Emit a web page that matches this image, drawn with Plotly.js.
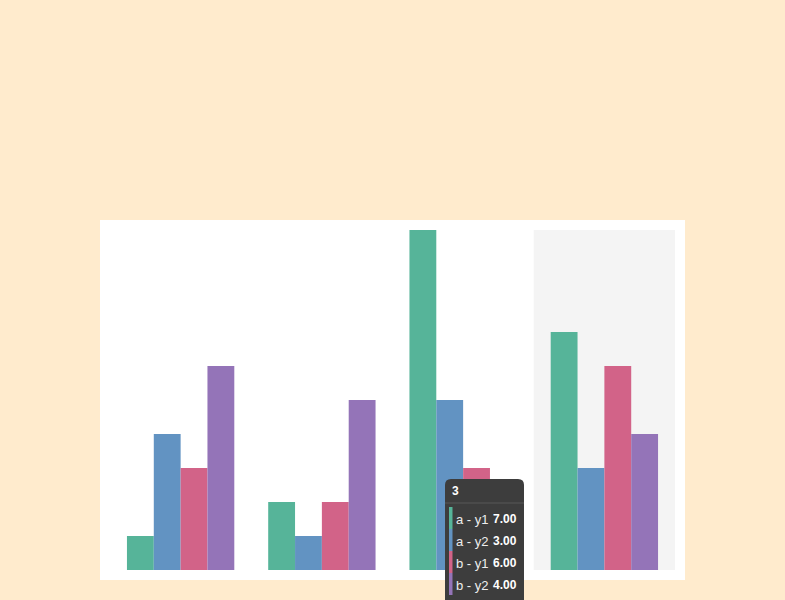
<!DOCTYPE html>
<html><head><meta charset="utf-8">
<script src="https://cdn.plot.ly/plotly-3.0.1.min.js"></script>
<style>html,body{margin:0;padding:0;background:#ffebcd;}</style>
</head><body><div id="chart" style="width:785px;height:600px;"></div>
<script>
const categories = ['0', '1', '2', '3'];
const seriesNames = ['a - y1', 'a - y2', 'b - y1', 'b - y2'];
const a_y1 = [1, 2, 10, 7];
const a_y2 = [4, 1, 5, 3];
const b_y1 = [3, 2, 3, 6];
const b_y2 = [6, 5, 2, 4];
const colors = ['#56b499', '#6293c2', '#d26388', '#9474b8'];
const hoverIndex = 3;

const allSeries = [a_y1, a_y2, b_y1, b_y2];
const traces = allSeries.map((vals, i) => ({
  type: 'bar', x: categories.map((c, k) => k), y: vals, name: seriesNames[i],
  marker: {color: colors[i], line: {width: 0}}, hoverinfo: 'none'
}));

// plot area in px
const L = 100, T = 220, W = 585, H = 360;
const px = x => (x - L) / W;
const py = y => (T + H - y) / H;

const shapes = [];
const annotations = [];
// highlight of hovered category
shapes.push({type: 'rect', xref: 'x', yref: 'y', x0: hoverIndex - 0.5, x1: hoverIndex + 0.5, y0: 0, y1: 10,
  fillcolor: '#f4f4f4', line: {width: 0}, layer: 'below'});

// tooltip box
const bx0 = 445, bx1 = 524, by0 = 479, by1 = 606, r = 6;
const path = `M ${px(bx0 + r)} ${py(by0)} L ${px(bx1 - r)} ${py(by0)} Q ${px(bx1)} ${py(by0)} ${px(bx1)} ${py(by0 + r)} ` +
  `L ${px(bx1)} ${py(by1 - r)} Q ${px(bx1)} ${py(by1)} ${px(bx1 - r)} ${py(by1)} L ${px(bx0 + r)} ${py(by1)} ` +
  `Q ${px(bx0)} ${py(by1)} ${px(bx0)} ${py(by1 - r)} L ${px(bx0)} ${py(by0 + r)} Q ${px(bx0)} ${py(by0)} ${px(bx0 + r)} ${py(by0)} Z`;
shapes.push({type: 'path', xref: 'paper', yref: 'paper', path: path, fillcolor: '#3d3d3d', line: {width: 0}, layer: 'above'});
shapes.push({type: 'line', xref: 'paper', yref: 'paper', x0: px(bx0), x1: px(bx1), y0: py(503), y1: py(503),
  line: {color: '#585858', width: 1}, layer: 'above'});
annotations.push({xref: 'paper', yref: 'paper', x: px(450), y: py(491), xanchor: 'left', yanchor: 'middle',
  text: '<b>' + categories[hoverIndex] + '</b>', showarrow: false, font: {color: '#ffffff', size: 12}});
allSeries.forEach((vals, i) => {
  const top = 507 + i * 22, mid = top + 11;
  shapes.push({type: 'rect', xref: 'paper', yref: 'paper', x0: px(449), x1: px(452.5), y0: py(top), y1: py(top + 22),
    fillcolor: colors[i], line: {width: 0}, layer: 'above'});
  annotations.push({xref: 'paper', yref: 'paper', x: px(454), y: py(mid + 1), xanchor: 'left', yanchor: 'middle',
    text: seriesNames[i], showarrow: false, font: {color: '#eeeeee', size: 13}});
  annotations.push({xref: 'paper', yref: 'paper', x: px(519), y: py(mid + 1), xanchor: 'right', yanchor: 'middle',
    text: '<b>' + vals[hoverIndex].toFixed(2) + '</b>', showarrow: false, font: {color: '#ffffff', size: 12}});
});

const layout = {
  width: 785, height: 600,
  paper_bgcolor: '#ffebcd', plot_bgcolor: '#ffffff',
  margin: {l: L, r: 785 - L - W, t: T, b: 600 - T - H, pad: 0},
  font: {family: 'Liberation Sans, Arial, sans-serif', size: 12},
  barmode: 'group', bargap: 0.24, bargroupgap: 0,
  showlegend: false,
  xaxis: {range: [-0.5 - 10 / 141.25, 3.5 + 10 / 141.25], showgrid: false, zeroline: false, showticklabels: false, ticks: '', showline: false, fixedrange: true},
  yaxis: {range: [-10 / 34, 10 + 10 / 34], showgrid: false, zeroline: false, showticklabels: false, ticks: '', showline: false, fixedrange: true},
  shapes: shapes, annotations: annotations
};
Plotly.newPlot('chart', traces, layout, {displayModeBar: false, staticPlot: true});
</script></body></html>
